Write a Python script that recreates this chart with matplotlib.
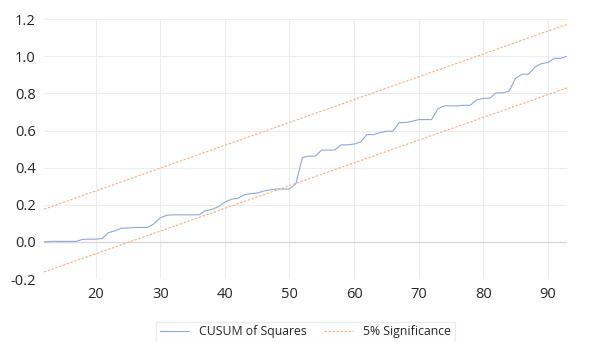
import matplotlib
matplotlib.use("Agg")
import matplotlib.pyplot as plt
import numpy as np

x = list(range(12, 94))
cusum = [0.0, 0.003, 0.003, 0.003, 0.003, 0.003, 0.014, 0.015, 0.015, 0.018,
         0.05, 0.06, 0.074, 0.075, 0.078, 0.078, 0.078, 0.097, 0.13, 0.144,
         0.146, 0.146, 0.146, 0.146, 0.146, 0.168, 0.175, 0.19, 0.214, 0.23,
         0.235, 0.254, 0.26, 0.263, 0.274, 0.281, 0.285, 0.285, 0.285, 0.314,
         0.455, 0.462, 0.462, 0.495, 0.495, 0.495, 0.523, 0.523, 0.527, 0.538,
         0.578, 0.578, 0.588, 0.596, 0.596, 0.643, 0.643, 0.65, 0.659, 0.659,
         0.659, 0.718, 0.733, 0.733, 0.733, 0.736, 0.736, 0.765, 0.773, 0.774,
         0.803, 0.803, 0.812, 0.881, 0.903, 0.903, 0.942, 0.96, 0.966, 0.989,
         0.989, 1.0]
band_x = [12, 93]
upper = [0.176, 1.172]
lower = [-0.162, 0.830]

xticks = [20, 30, 40, 50, 60, 70, 80, 90]
yticks = [-0.2, 0.0, 0.2, 0.4, 0.6, 0.8, 1.0, 1.2]

plt.rcParams['font.family'] = ['Open Sans', 'DejaVu Sans']

fig = plt.figure(figsize=(5.97, 3.42), dpi=100)
ax = fig.add_axes([0.0737, 0.184, 0.8763, 0.76])

blue = '#8EA9DB'
orange = '#F4B183'
ax.plot(x, cusum, color=blue, lw=0.8, label='CUSUM of Squares', zorder=3)
ax.plot(band_x, upper, color=orange, lw=0.8, ls=(0, (2.2, 1.4)), label='5% Significance', zorder=3)
ax.plot(band_x, lower, color=orange, lw=0.8, ls=(0, (2.2, 1.4)), zorder=3)

ax.set_xlim(12, 93)
ax.set_ylim(-0.2, 1.2)
ax.set_xticks(xticks)
ax.set_yticks(yticks)
ax.set_yticklabels([f'{v:.1f}' for v in yticks])
ax.grid(True, color='#EDEDED', lw=0.8)
ax.axhline(0, color='#D9D9D9', lw=1.0, zorder=2)
for s in ax.spines.values():
    s.set_visible(False)
ax.tick_params(length=0, labelsize=10.5, colors='#262626', pad=6)
ax.set_axisbelow(True)

leg = ax.legend(loc='upper center', bbox_to_anchor=(0.5, -0.14), ncol=2,
                fontsize=8.8, frameon=True, fancybox=False, edgecolor='#E6E6E6',
                handlelength=2.4, columnspacing=1.4, borderpad=0.3)
for t in leg.get_texts():
    t.set_color('#262626')

fig.savefig('out.png', dpi=100)
